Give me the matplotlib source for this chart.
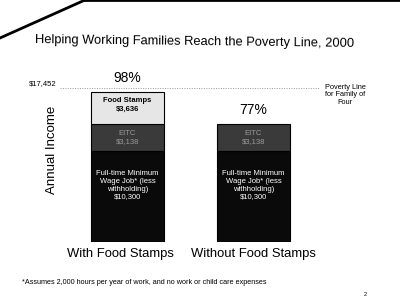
import matplotlib.pyplot as plt
import numpy as np

plt.rcParams['font.family'] = ['Liberation Sans', 'DejaVu Sans']

# data
categories = ['With Food Stamps', 'Without Food Stamps']
job = [10300, 10300]
eitc = [3138, 3138]
food_stamps = [3636, 0]
pct_labels = ['98%', '77%']
poverty_line = 17452

job_text = 'Full-time Minimum\nWage Job* (less\nwithholding)\n$10,300'
eitc_text = 'EITC\n$3,138'
fs_text = 'Food Stamps\n$3,636'

W, H = 400, 302
fig = plt.figure(figsize=(W / 100, H / 100), dpi=100)
ax = fig.add_axes([60 / W, (H - 242) / H, 260 / W, 163 / H])

x = np.arange(len(categories))
width = 0.58
ax.bar(x, job, width, color='#0a0a0a', edgecolor='black', linewidth=0.8)
ax.bar(x, eitc, width, bottom=job, color='#3a3a3a', edgecolor='black', linewidth=0.8)
bottom2 = np.array(job) + np.array(eitc)
ax.bar(x[:1], food_stamps[:1], width, bottom=bottom2[:1], color='#e6e6e6',
       edgecolor='black', linewidth=0.8)

for i in x:
    ax.text(i, job[i] / 2 + 1300, job_text, ha='center', va='center',
            color='white', fontsize=5.5, linespacing=1.15)
    ax.text(i, job[i] + eitc[i] / 2, eitc_text, ha='center', va='center',
            color='#9a9a9a', fontsize=5.5, linespacing=1.2)
    total = job[i] + eitc[i] + food_stamps[i]
    ax.text(i, total + 700, pct_labels[i], ha='center', va='bottom', fontsize=10)
ax.text(0, bottom2[0] + food_stamps[0] / 2 + 300, fs_text, ha='center', va='center',
        fontsize=5.5, fontweight='bold', linespacing=1.2)

ax.axhline(poverty_line, color='#999999', linestyle=(0, (1, 1.5)), linewidth=0.7)
ax.text(-0.065, poverty_line + 150, '$17,452', transform=ax.get_yaxis_transform(),
        ha='center', va='bottom', fontsize=5.5)

ax.set_xlim(-0.536, 1.528)
ax.set_ylim(0, 18500)
ax.axis('off')

label_shift = [-0.06, 0.0]
for i, c in enumerate(categories):
    ax.text(i + label_shift[i], -650, c, ha='center', va='top', fontsize=9.4)

fig.text(345 / W, 1 - 95 / H, 'Poverty Line\nfor Family of\nFour', ha='center', va='center',
         fontsize=5.3, linespacing=1.15)
fig.text(52 / W, 1 - 150 / H, 'Annual Income', rotation=90, ha='center', va='center',
         fontsize=9.5)
fig.text(195 / W, 1 - 42 / H, 'Helping Working Families Reach the Poverty Line, 2000',
         ha='center', va='center', fontsize=9.3, rotation=-0.7)
fig.text(22 / W, 1 - 282 / H,
         '*Assumes 2,000 hours per year of work, and no work or child care expenses',
         ha='left', va='center', fontsize=5.2)
fig.text(365 / W, 1 - 295 / H, '2', ha='center', va='center', fontsize=4)

# scan edge
fig.add_artist(plt.Line2D([0, 85 / W], [1 - 38 / H, 1], color='black', linewidth=2,
                          transform=fig.transFigure))
fig.add_artist(plt.Line2D([85 / W, 1], [1, 1], color='black', linewidth=2,
                          transform=fig.transFigure))

fig.savefig('out.png', dpi=100)
